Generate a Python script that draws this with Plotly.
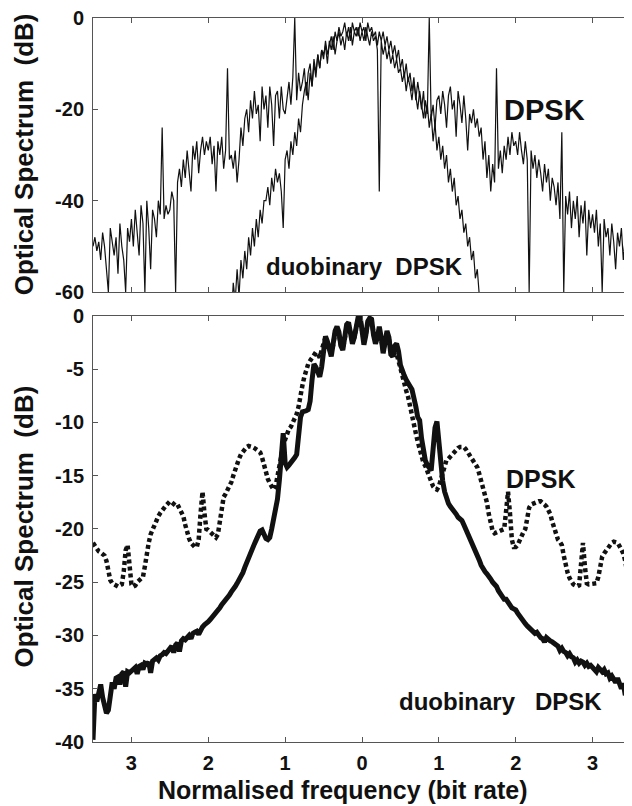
import numpy as np
import plotly.graph_objects as go

# ---------------- data ----------------
STEP = 0.025          # frequency step of the sampled spectra (bit rate units)
TOP_DPSK_START = -3.5
TOP_DUO_START = -1.75
BOT_START = -3.5

# top panel: measured DPSK spectrum (dB)
top_dpsk = [
    -50, -48, -51, -49, -53, -47, -50, -55, -60, -46, -49, -52, -48, -56, -45, -50, -53, -60, -46, -49,
    -44, -50, -42, -47, -52, -41, -45, -60, -40, -46, -55, -42, -44, -48, -40, -43, -24, -44, -41, -43,
    -42, -38, -40, -60, -36, -33, -37, -31, -35, -29, -33, -38, -28, -31, -27, -34, -29, -26, -30, -27,
    -29, -26, -32, -28, -38, -27, -30, -26, -33, -29, -11, -31, -30, -33, -29, -36, -31, -24, -28, -22,
    -20, -25, -18, -22, -16, -21, -19, -27, -15, -20, -17, -24, -15, -19, -28, -17, -16, -22, -15, -20,
    -21, -17, -14, -19, -13, 0, -18, -12, -16, -14, -11, -17, -12, -10, -15, -9, -12, -8, -11, -7,
    -8, -6, -10, -5, -7, -4, -8, -5, -3, -6, -4, -7, -3, -5, -2, -6, -3, -4, -2, -5,
    -3, -5, -2, -4, -6, -3, -5, -4, -7, -38, -5, -8, -6, -9, -7, -10, -8, -11, -9, -12,
    -11, -14, -12, -16, -13, -15, -18, -14, -17, -20, -16, -19, -22, -18, -21, 0, -22, -19, -24, -18,
    -17, -21, -16, -19, -24, -17, -15, -20, -18, -26, -16, -19, -23, -17, -22, -29, -21, -23, -20, -24,
    -22, -26, -24, -31, -27, -35, -30, -38, -32, -36, -11, -33, -29, -34, -28, -31, -26, -30, -25, -28,
    -27, -30, -25, -29, -32, -27, -31, -60, -29, -33, -30, -35, -31, -34, -38, -32, -36, -33, -40, -35,
    -37, -41, -36, -44, -25, -60, -39, -43, -38, -46, -40, -44, -39, -48, -41, -45, -40, -52, -42, -46,
    -43, -47, -42, -50, -45, -60, -44, -48, -46, -52, -45, -49, -55, -47, -50, -46, -53, -48, -51, -49, -50,
]

# top panel: measured duobinary DPSK spectrum (dB)
top_duo = [
    -64, -60, -66, -58, -62, -55, -61, -53, -57, -51, -55, -48, -52, -46, -50, -44, -48, -42, -45, -40,
    -40, -37, -41, -35, -38, -33, -36, -34, -38, -46, -31, -29, -33, -27, -30, -25, -28, -22, -25, -19,
    -16, -14, -18, -12, -15, -10, -13, -8, -11, -7, -9, -5, -8, -6, -4, -7, -3, -5, -2, -4,
    -3, -1, -4, -2, -5, -1, -3, -2, -4, -1, -3, -2, -5, -1, -3, -2, -4, -3, -6, -3,
    -5, -3, -6, -4, -7, -5, -8, -6, -9, -7, -11, -9, -13, -10, -14, -12, -16, -13, -18, -14,
    -17, -20, -16, -22, -19, -24, -21, -27, -23, -29, -26, -31, -28, -33, -30, -36, -33, -38, -35, -41,
    -39, -44, -42, -47, -45, -50, -48, -53, -51, -57, -55, -62, -66,
]

# bottom panel: simulated duobinary DPSK (solid, dB)
bot_duo = [
    -39.8, -35.5, -36.2, -35.4, -34.6, -35.8, -36.5, -37.3, -37.0, -35.2, -34.4, -35.0, -34.0, -33.9, -34.6, -33.6, -33.4, -34.8, -33.4, -33.5,
    -33.3, -33.2, -33.0, -33.6, -32.9, -32.8, -33.2, -32.6, -32.7, -32.5, -33.5, -32.4, -32.3, -32.1, -32.3, -31.9, -31.8, -31.6, -31.7, -31.4,
    -31.2, -31.0, -31.6, -30.9, -30.7, -31.5, -30.5, -30.3, -30.4, -30.2, -30.0, -30.3, -29.8, -29.7, -29.6, -29.9, -29.4, -29.2, -29.0, -28.9,
    -28.7, -28.5, -28.3, -28.1, -27.9, -27.6, -27.4, -27.1, -26.9, -26.6, -26.4, -26.2, -25.9, -25.7, -25.4, -25.1, -24.8, -24.5, -24.1, -23.6,
    -23.1, -22.8, -22.4, -21.9, -21.4, -21.0, -20.6, -20.2, -20.1, -20.5, -20.9, -21.0, -20.8, -20.0, -19.2, -18.5, -17.2, -15.4, -13.0, -11.0,
    -13.8, -14.2, -14.0, -13.8, -13.5, -13.3, -13.0, -11.5, -9.5, -9.0, -9.0, -8.9, -8.8, -8.0, -6.0, -4.5, -4.8, -5.4, -5.7, -4.8,
    -2.8, -1.9, -2.4, -3.4, -3.8, -2.6, -1.4, -1.0, -1.5, -2.8, -3.2, -2.0, -0.8, -0.6, -1.4, -2.6, -2.0, -0.6, -0.1, 0.0,
    -1.5, -2.7, -1.8, -0.5, -0.2, -0.3, -1.8, -2.6, -2.0, -1.0, -2.0, -3.5, -2.5, -1.4, -2.0, -3.6, -3.8, -2.8, -2.6, -3.3,
    -4.6, -5.3, -5.6, -6.0, -6.4, -6.6, -6.9, -7.5, -8.5, -9.5, -9.8, -11.5, -13.0, -13.6, -14.0, -14.3, -14.5, -12.5, -10.5, -9.9,
    -12.0, -14.5, -15.5, -16.5, -17.2, -17.6, -17.9, -18.1, -18.3, -18.6, -18.9, -19.1, -19.2, -19.6, -20.0, -20.4, -20.8, -21.1, -21.5, -21.9,
    -22.4, -22.9, -23.4, -23.8, -24.0, -24.2, -24.4, -24.7, -25.0, -25.2, -25.4, -25.8, -26.1, -26.4, -26.6, -26.6, -26.9, -27.2, -27.4, -27.5,
    -27.6, -27.9, -28.2, -28.4, -28.7, -28.9, -29.1, -29.3, -29.5, -29.6, -29.8, -29.7, -30.0, -30.2, -30.3, -30.6, -30.2, -30.4, -30.5, -30.6,
    -30.7, -30.9, -31.0, -31.4, -31.2, -31.5, -31.6, -31.9, -31.7, -32.0, -32.1, -32.5, -32.3, -32.6, -32.4, -32.5, -32.8, -32.6, -32.9, -32.8,
    -33.0, -33.1, -33.4, -33.0, -33.2, -33.4, -33.2, -33.6, -33.5, -34.0, -33.8, -34.1, -34.4, -34.0, -34.6, -35.0, -34.5, -35.6, -35.2, -35.8, -35.5,
]

# bottom panel: simulated DPSK (dotted, dB)
bot_dpsk = [
    -21.3, -21.6, -21.9, -22.1, -22.2, -22.3, -22.5, -23.0, -24.0, -24.8, -25.1, -25.2, -25.3, -25.4, -25.3, -25.2, -24.0, -22.0, -21.5, -23.5,
    -25.2, -25.4, -25.3, -25.0, -24.8, -24.6, -24.5, -23.5, -22.0, -21.3, -20.5, -20.0, -19.5, -19.1, -18.8, -18.5, -18.2, -18.0, -17.8, -17.6,
    -17.4, -17.5, -17.6, -17.8, -17.7, -18.0, -18.3, -18.8, -19.6, -20.4, -20.9, -21.3, -21.6, -21.7, -21.7, -21.0, -18.5, -16.5, -18.5, -20.0,
    -20.1, -20.3, -20.5, -20.7, -20.8, -20.5, -19.5, -18.0, -17.0, -16.7, -16.4, -16.1, -15.6, -15.0, -14.4, -13.9, -13.4, -13.0, -12.7, -12.5,
    -12.3, -12.2, -12.2, -12.3, -12.4, -12.5, -12.6, -12.8, -13.3, -14.0, -14.8, -15.3, -15.7, -16.0, -16.3, -16.0, -15.0, -14.1, -13.0, -12.2,
    -11.6, -11.0, -10.6, -10.4, -10.0, -9.6, -9.2, -8.5, -7.2, -6.5, -5.7, -5.0, -4.5, -4.2, -3.9, -3.6, -3.4, -3.6, -3.9, -3.2,
    -2.5, -2.0, -2.6, -3.3, -3.6, -2.7, -1.6, -1.2, -1.7, -2.7, -3.0, -2.2, -1.0, -0.8, -1.5, -2.4, -2.0, -0.8, -0.3, -0.2,
    -1.3, -2.4, -1.7, -0.7, -0.4, -0.5, -1.6, -2.4, -2.1, -1.2, -2.1, -3.3, -2.6, -1.6, -2.2, -3.4, -3.9, -3.4, -3.6, -4.2,
    -5.0, -5.7, -6.4, -7.0, -7.6, -8.6, -9.6, -10.4, -11.0, -11.8, -12.6, -13.4, -13.8, -14.1, -14.6, -15.2, -15.7, -16.0, -16.2, -16.3,
    -16.0, -15.3, -14.5, -13.9, -13.5, -13.4, -13.2, -13.0, -12.8, -12.5, -12.4, -12.3, -12.3, -12.3, -12.5, -12.8, -13.1, -13.4, -13.6, -13.8,
    -14.2, -14.8, -15.5, -16.2, -16.6, -17.5, -18.6, -19.6, -20.2, -20.4, -20.3, -20.2, -20.1, -20.1, -20.0, -18.3, -16.5, -18.5, -21.0, -21.7,
    -21.7, -21.5, -21.0, -20.6, -20.3, -20.0, -19.0, -18.0, -17.7, -17.6, -17.5, -17.4, -17.4, -17.4, -17.5, -17.7, -17.9, -18.2, -18.6, -19.3,
    -20.0, -20.6, -21.0, -21.2, -21.5, -22.5, -23.4, -24.1, -24.6, -25.0, -25.2, -25.3, -25.4, -25.3, -23.5, -21.3, -23.5, -25.1, -25.2, -25.2,
    -25.2, -25.1, -25.1, -24.5, -23.5, -22.6, -22.3, -22.0, -21.7, -21.5, -21.3, -21.2, -21.2, -21.3, -21.6, -21.9, -22.3, -23.0, -24.1, -24.3, -23.5,
]

x_tickvals = [-3, -2, -1, 0, 1, 2, 3]
x_ticktext = ["3", "2", "1", "0", "1", "2", "3"]
top_yticks = [0, -20, -40, -60]
top_yticktext = ["0", "-20", "-40", "-60"]
bot_yticks = [0, -5, -10, -15, -20, -25, -30, -35, -40]
bot_yticktext = ["0", "-5", "-10", "-15", "-20", "-25", "-30", "-35", "-40"]


def grid(start, n):
    return np.round(start + STEP * np.arange(n), 4)


FONT = "Liberation Sans, Arial, Helvetica, sans-serif"
INK = "#111111"
FRAME = "#555555"

fig = go.Figure()
fig.add_trace(go.Scatter(x=grid(TOP_DPSK_START, len(top_dpsk)), y=top_dpsk,
                         xaxis="x", yaxis="y", mode="lines",
                         line=dict(color=INK, width=1.2), showlegend=False))
fig.add_trace(go.Scatter(x=grid(TOP_DUO_START, len(top_duo)), y=top_duo,
                         xaxis="x", yaxis="y", mode="lines",
                         line=dict(color=INK, width=1.2), showlegend=False))
fig.add_trace(go.Scatter(x=grid(BOT_START, len(bot_dpsk)), y=bot_dpsk,
                         xaxis="x2", yaxis="y2", mode="lines",
                         line=dict(color=INK, width=4.5, dash="4px,3px"), showlegend=False))
fig.add_trace(go.Scatter(x=grid(BOT_START, len(bot_duo)), y=bot_duo,
                         xaxis="x2", yaxis="y2", mode="lines",
                         line=dict(color=INK, width=5), showlegend=False))

axis_common = dict(showline=True, linecolor=FRAME, linewidth=1, mirror="ticks",
                   ticks="inside", ticklen=5, tickcolor=FRAME, tickwidth=1,
                   showgrid=False, zeroline=False, automargin=False,
                   ticklabeloverflow="allow",
                   tickfont=dict(family=FONT, size=20, color=INK, weight="bold"))

# the page body has an 8px margin, so the figure is 8px smaller and margins shifted
fig.update_layout(
    width=624, height=798,
    margin=dict(l=85, r=1, t=10, b=64),
    paper_bgcolor="white", plot_bgcolor="white",
    font=dict(family=FONT, color=INK),
    xaxis=dict(domain=[0, 1], anchor="y", range=[-3.5, 3.5], tickvals=x_tickvals,
               showticklabels=False, **axis_common),
    yaxis=dict(domain=[0.6215, 1], anchor="x", range=[-60, 0], tickvals=top_yticks,
               ticktext=top_yticktext, ticklabelstandoff=4, **axis_common),
    xaxis2=dict(domain=[0, 1], anchor="y2", range=[-3.5, 3.5], tickvals=x_tickvals,
                ticktext=x_ticktext, ticklabelstandoff=3, **axis_common),
    yaxis2=dict(domain=[0, 0.5884], anchor="x2", range=[-40, 0], tickvals=bot_yticks,
                ticktext=bot_yticktext, ticklabelstandoff=4, **axis_common),
)

title_font = dict(family=FONT, size=25, color=INK, weight="bold")
ytitle_font = dict(family=FONT, size=26, color=INK, weight="bold")
fig.add_annotation(text="Optical Spectrum  (dB)", xref="paper", yref="paper",
                   x=-0.128, y=0.812, textangle=-90, showarrow=False, font=ytitle_font,
                   xanchor="center", yanchor="middle")
fig.add_annotation(text="Optical Spectrum  (dB)", xref="paper", yref="paper",
                   x=-0.128, y=0.298, textangle=-90, showarrow=False, font=ytitle_font,
                   xanchor="center", yanchor="middle")
fig.add_annotation(text="Normalised frequency (bit rate)", xref="paper", yref="paper",
                   x=0.4656, y=-0.066, showarrow=False, font=title_font,
                   xanchor="center", yanchor="middle")

fig.add_annotation(text="DPSK", xref="x", yref="y", x=2.38, y=-20.1, showarrow=False,
                   font=dict(family=FONT, size=29, color=INK, weight="bold"))
fig.add_annotation(text="duobinary  DPSK", xref="x", yref="y", x=0.03, y=-54.5,
                   showarrow=False, font=dict(family=FONT, size=24, color=INK, weight="bold"))
fig.add_annotation(text="DPSK", xref="x2", yref="y2", x=2.32, y=-15.3, showarrow=False,
                   font=dict(family=FONT, size=25, color=INK, weight="bold"))
fig.add_annotation(text="duobinary   DPSK", xref="x2", yref="y2", x=1.8, y=-36.2,
                   showarrow=False, font=dict(family=FONT, size=24, color=INK, weight="bold"))

fig.write_html("out.html")
